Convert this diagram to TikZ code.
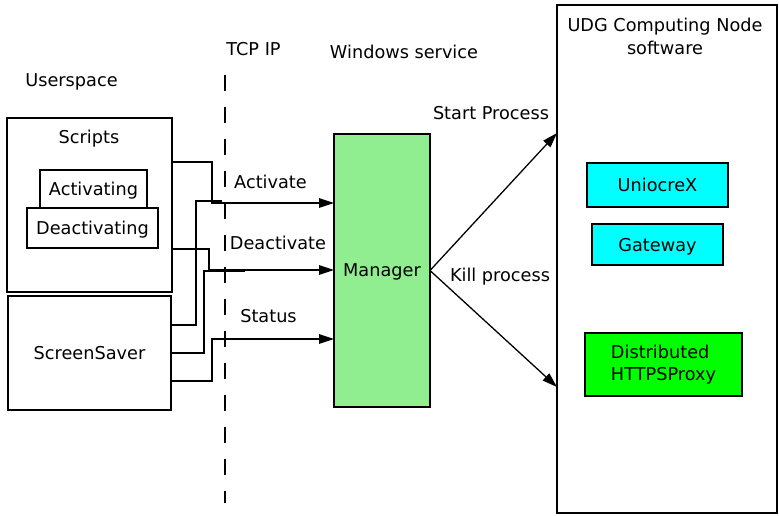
\documentclass[tikz,border=0pt]{standalone}
\usepackage{fontspec}
\setmainfont{DejaVu Sans}
\usetikzlibrary{arrows.meta}
\definecolor{mgrgreen}{RGB}{144,238,144}
\definecolor{procCyan}{RGB}{0,255,255}
\definecolor{procGreen}{RGB}{0,255,0}
\begin{document}
\begin{tikzpicture}[x=1pt,y=-1pt,
  font=\fontsize{17.7}{22.5}\selectfont,
  every node/.style={inner sep=0pt,outer sep=0pt},
  box/.style={draw=black,line width=1.3pt,rectangle},
  nodesc/.style={text depth=0pt},
  wire/.style={draw=black,line width=1.3pt},
  arr/.style={wire,-{Triangle[length=15pt,width=9.5pt]}},
  tcpline/.style={draw=black,line width=1.4pt,dash pattern=on 16pt off 16pt}]
\useasboundingbox (0,0) rectangle (779,515);

% free labels
\node (lblUser) at (71.5,81.5) {Userspace};
\node (lblTcp) at (253.5,49) {TCP IP};
\node (lblWin) at (404,51.5) {Windows service};

% TCP/IP boundary
\coordinate (tcpTop) at (225,75);
\coordinate (tcpBot) at (225,503);
\draw[tcpline] (tcpTop) -- (tcpBot);

% user-space side
\node[box,minimum width=165,minimum height=174] (scripts) at (89.5,205) {};
\node (scriptsLbl) at (89,138.5) {Scripts};
\node[box,nodesc,minimum width=107,minimum height=38] (act) at (93.5,189) {Activating};
\node[box,nodesc,fill=white,minimum width=131,minimum height=40] (deact) at (92.5,228) {Deactivating};
\node[box,minimum width=163,minimum height=114] (ss) at (89.5,353) {ScreenSaver};

% windows service
\node[box,nodesc,fill=mgrgreen,minimum width=96,minimum height=273] (mgr) at (382,270.5) {Manager};

% computing node software
\node[box,minimum width=220,minimum height=508] (udg) at (667,259) {};
\node[align=center] (udgLbl) at (665,36.5) {UDG Computing Node\\software};
\node[box,fill=procCyan,minimum width=141,minimum height=44] (uni) at (657.5,185) {UniocreX};
\node[box,nodesc,fill=procCyan,minimum width=131,minimum height=41] (gw) at (657.5,244.5) {Gateway};
\node[box,fill=procGreen,minimum width=157,minimum height=63,align=left] (proxy) at (663.5,364.5) {Distributed\\HTTPSProxy};

% connector labels
\node (lActivate) at (270.5,181.5) {Activate};
\node (lDeactivate) at (278,242.5) {Deactivate};
\node (lStatus) at (268.5,316) {Status};
\node (lStart) at (491,113) {Start Process};
\node (lKill) at (500,276.5) {Kill process};

% routing points of the message wires
\coordinate (actIn) at (212,203);
\coordinate (deIn) at (209,270);
\coordinate (stIn) at (212,339);
\coordinate (ssActEnd) at (222,201);
\coordinate (ssDeEnd) at (245,271);

% activate
\draw[arr] ([yshift=-44pt]scripts.north east) -| (actIn) -- (mgr.west |- actIn);
\draw[wire] ([yshift=-29pt]ss.north east) -| (196,201) -- (ssActEnd);
% deactivate
\draw[arr] ([yshift=-131pt]scripts.north east) -| (deIn) -- (mgr.west |- deIn);
\draw[wire] (ss.east) -| (204,271) -- (ssDeEnd);
% status
\draw[arr] ([yshift=29pt]ss.south east) -| (stIn) -- (mgr.west |- stIn);

% process control
\draw[arr] (mgr.east) -- (udg.west |- 0,133);
\draw[arr] (mgr.east) -- (udg.west |- 0,387);
\end{tikzpicture}
\end{document}
